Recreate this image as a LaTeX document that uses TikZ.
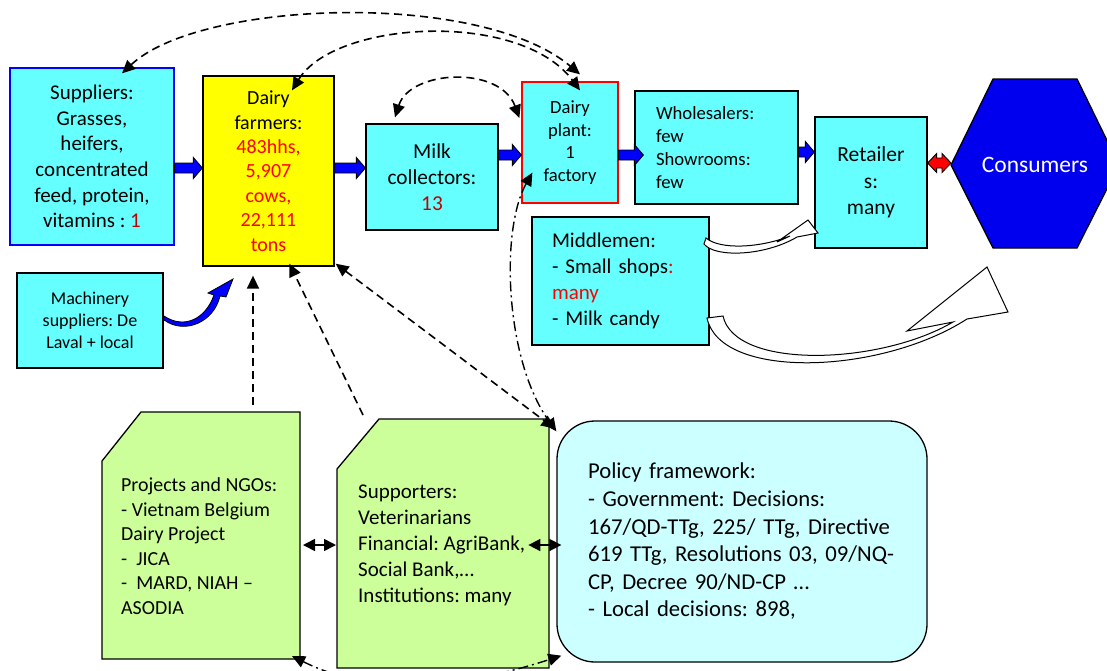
\documentclass[tikz,border=0pt]{standalone}
\usepackage{fontspec}
\setmainfont{Carlito}
\usetikzlibrary{arrows.meta,calc}
\definecolor{boxcyan}{HTML}{66FFFF}
\definecolor{boxyellow}{HTML}{FFFF00}
\definecolor{boxgreen}{HTML}{CCFF99}
\definecolor{boxpale}{HTML}{CCFFFF}
\definecolor{hexblue}{HTML}{0000EE}
\definecolor{arrowblue}{HTML}{0000FF}
\definecolor{darkred}{HTML}{C00000}
\definecolor{txtred}{HTML}{FF0000}
\frenchspacing
\begin{document}
\begin{tikzpicture}[x=1pt,y=-1pt,
  >={Triangle[length=13pt,width=12pt]},
  box/.style={draw=black, line width=1.3pt, fill=boxcyan, inner sep=0pt, align=center},
  shapeline/.style={draw=black, line width=1.3pt},
  dashconn/.style={draw=black, line width=1.6pt, dash pattern=on 8pt off 5pt},
  dotconn/.style={draw=black, line width=1.4pt, dash pattern=on 10pt off 4pt on 2pt off 4pt},
  smallarr/.style={draw=black, line width=1.6pt, >={Triangle[length=12pt,width=12pt]}},
  fatarrow/.style={draw=black, line width=0.9pt, fill=arrowblue, line join=miter,
    to path={let \p1=(\tikztostart), \p2=(\tikztotarget) in
      (\x1,\y1+5) -- (\x2-9,\y1+5) -- (\x2-9,\y1+10.5) -- (\x2,\y1) -- (\x2-9,\y1-10.5) -- (\x2-9,\y1-5) -- (\x1,\y1-5) -- cycle}},
  redarrow/.style={draw=black, line width=0.9pt, fill=txtred, line join=miter,
    to path={let \p1=(\tikztostart), \p2=(\tikztotarget) in
      (\x1,\y1) -- (\x1+9,\y1+9.5) -- (\x1+9,\y1+5) -- (\x2-9,\y1+5) -- (\x2-9,\y1+9.5) -- (\x2,\y1) -- (\x2-9,\y1-9.5) -- (\x2-9,\y1-5) -- (\x1+9,\y1-5) -- (\x1+9,\y1-9.5) -- cycle}},
  curvedwhite/.style={draw=black, line width=1pt, fill=white, line join=miter},
  curvedblue/.style={draw=black, line width=0.8pt, fill=arrowblue, line join=miter}
]
\useasboundingbox (0,0) rectangle (1107,670);

% ---------- boxes ----------
\node[box, draw=arrowblue, minimum width=164pt, minimum height=177pt,
      font=\fontsize{21}{25.7}\selectfont] (sup) at (92,156.5)
  {Suppliers:\\Grasses,\\heifers,\\concentrated\\feed, protein,\\vitamins : \textcolor{darkred}{1}};
\node[box, fill=boxyellow, minimum width=131pt, minimum height=190pt,
      font=\fontsize{20}{24.4}\selectfont] (far) at (268.5,171)
  {Dairy\\farmers:\\\textcolor{txtred}{483hhs,}\\\textcolor{txtred}{5,907}\\\textcolor{txtred}{cows,}\\\textcolor{txtred}{22,111}\\\textcolor{txtred}{tons}};
\node[box, minimum width=132pt, minimum height=106pt,
      font=\fontsize{21.3}{26}\selectfont] (mc) at (432,177)
  {Milk\\collectors:\\\textcolor{darkred}{13}};
\node[box, draw=txtred, minimum width=96pt, minimum height=121pt,
      font=\fontsize{18.6}{22.7}\selectfont] (plant) at (570,142.5)
  {Dairy\\plant:\\1\\factory};
\node[box, align=left, text width=121pt, inner xsep=21pt, minimum height=113pt,
      font=\fontsize{18.7}{23}\selectfont] (whole) at (716.5,147.5)
  {Wholesalers:\\few\\Showrooms:\\few};
\node[box, minimum width=112pt, minimum height=131pt,
      font=\fontsize{21.5}{26.5}\selectfont] (ret) at (871,182.5)
  {Retailer\\s:\\many};
\node[box, align=left, text width=137pt, inner xsep=20pt, minimum height=128pt,
      font=\fontsize{21}{26}\selectfont] (mid) at (620.5,281)
  {Middlemen:\\- Small shops\textcolor{txtred}{:}\\\textcolor{txtred}{many}\\- Milk candy};
\node[box, minimum width=146pt, minimum height=95pt,
      font=\fontsize{18}{22}\selectfont] (mach) at (90,320.5)
  {Machinery\\suppliers: De\\Laval + local};
\node[box, fill=boxpale, rounded corners=38pt, align=left, text width=308pt, inner xsep=31pt,
      minimum height=241pt, font=\fontsize{22.7}{27.6}\selectfont] (pol) at (742,541.5)
  {Policy framework:\\- Government: Decisions:\\167/QD-TTg, 225/ TTg, Directive\\619 TTg, Resolutions 03, 09/NQ-\\CP, Decree 90/ND-CP …\\- Local decisions: 898,};

% consumers hexagon
\draw[shapeline, fill=hexblue] (951,165) -- (993,79) -- (1077,79) -- (1119,165) -- (1077,248) -- (993,248) -- cycle;
\coordinate (consW) at (951,165);
\node[text=white, font=\fontsize{23.5}{28}\selectfont] (cons) at (1035,165) {Consumers};

% projects box
\draw[shapeline, fill=boxgreen] (102,659) -- (102,461) -- (141,412) -- (300,412) -- (300,659) -- cycle;
\node[align=left, anchor=west, inner sep=0pt, font=\fontsize{19.9}{24.5}\selectfont] (proj) at (121,546)
  {Projects and NGOs:\\- Vietnam Belgium\\Dairy Project\\-~~JICA\\-~~MARD, NIAH –\\ASODIA};
\coordinate (projtop) at (253,412);
\coordinate (projE) at (300,545);
\coordinate (projSE) at (300,659);

% supporters box
\draw[shapeline, fill=boxgreen] (337,668) -- (337,469) -- (379,419) -- (549,419) -- (549,668) -- cycle;
\node[align=left, anchor=west, inner sep=0pt, font=\fontsize{21}{26}\selectfont] (supp) at (358,545)
  {Supporters:\\Veterinarians\\Financial: AgriBank,\\Social Bank,…\\Institutions: many};
\coordinate (suppW) at (337,545);
\coordinate (suppA) at (363,415);

% ---------- dashed connectors ----------
\draw[dashconn,<->] ($(sup.north)+(30,6)$) .. controls (200,0) and (480,-10) .. ($(plant.north)+(10,-7)$);
\draw[dashconn,<->] ($(far.north)+(23.5,15)$) .. controls (335,20) and (520,10) .. ($(plant.north)+(10,9)$);
\draw[dashconn,<->] ($(mc.north)+(-37,-6)$) .. controls (410,70) and (500,65) .. ($(plant.west)+(-2,-24.5)$);
\draw[dashconn,->] ($(projtop)+(0,-7)$) -- ($(far.south -| projtop)+(0,9)$);
\draw[dashconn,->] (suppA) -- ($(far.south west)+(87,-3)$);
\draw[dashconn,<->] ($(far.south east)+(1,-3)$) -- ($(pol.north west)+(-2,8)$);
\draw[dotconn,<->] ($(plant.south west)+(11,-31)$) .. controls (500,230) and (505,360) .. ($(pol.north west)+(0,11)$);
\draw[dotconn,<->] ($(projSE)+(-8,-3)$) .. controls (360,690) and (440,695) .. ($(pol.south west)+(5,-7)$);

% small double arrows
\draw[smallarr,<->] ([xshift=3pt]projE) -- ([xshift=-1pt]suppW);
\draw[smallarr,<->] ($(pol.west)+(-28,3.5)$) -- ($(pol.west)+(5,3.5)$);

% ---------- block arrows ----------
\draw[fatarrow] ([yshift=-11.5pt]sup.east) to (far.west);
\draw[fatarrow] ([yshift=3pt]far.east) to (mc.west);
\draw[fatarrow] ([yshift=22pt]mc.east) to (plant.west);
\draw[fatarrow] ([yshift=-12.5pt]plant.east) to ([xshift=9pt]whole.west);
\draw[fatarrow] ([yshift=-4.5pt]whole.east) to (ret.west);
\draw[redarrow] ([yshift=19.5pt]ret.east) to (consW);

% machinery curved arrow
\draw[curvedblue] (164,316) .. controls (185,330) and (206,318) .. (214,295)
  -- (208,293) -- (233,279) -- (226,297) -- (220,296)
  .. controls (214,322) and (185,335) .. (164,320) -- cycle;

% middlemen curved arrows
\draw[curvedwhite] (706,238) .. controls (720,250) and (760,248) .. (790,236)
  -- (777,242) -- (808,220) -- (818,233) -- (797,237)
  .. controls (765,256) and (715,258) .. (704,244) -- cycle;
\draw[curvedwhite] (707,318) -- (723,316) .. controls (735,370) and (880,365) .. (953,322)
  -- (907,331) -- (987,267) -- (1008,312) -- (967,319)
  .. controls (880,375) and (720,380) .. (707,318) -- cycle;
\end{tikzpicture}
\end{document}
